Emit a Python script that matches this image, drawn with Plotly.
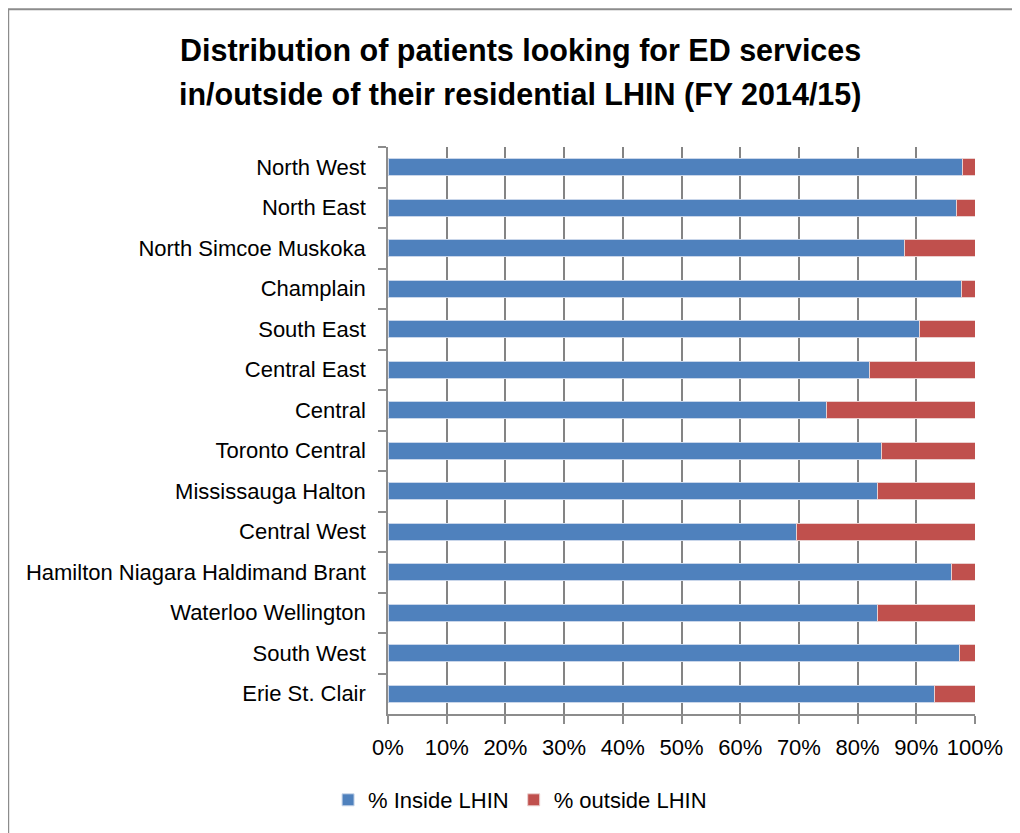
import plotly.graph_objects as go

# LHIN regions, top to bottom as shown
regions = [
    "North West", "North East", "North Simcoe Muskoka", "Champlain",
    "South East", "Central East", "Central", "Toronto Central",
    "Mississauga Halton", "Central West", "Hamilton Niagara Haldimand Brant",
    "Waterloo Wellington", "South West", "Erie St. Clair",
]
inside_pct = [97.8, 96.8, 88.0, 97.7, 90.5, 82.0, 74.7, 84.0, 83.4, 69.6, 96.0, 83.4, 97.3, 93.1]
outside_pct = [2.2, 3.2, 12.0, 2.3, 9.5, 18.0, 25.3, 16.0, 16.6, 30.4, 4.0, 16.6, 2.7, 6.9]
x_ticks = [0, 10, 20, 30, 40, 50, 60, 70, 80, 90, 100]

FONT = "Liberation Sans Narrow, Arial Narrow, Liberation Sans, Arial, sans-serif"

fig = go.Figure()
fig.add_trace(go.Bar(
    y=regions, x=inside_pct, orientation="h", name="% Inside LHIN",
    marker=dict(color="#4F81BD", line=dict(color="#c9d6ea", width=1)),
))
fig.add_trace(go.Bar(
    y=regions, x=outside_pct, orientation="h", name="% outside LHIN",
    marker=dict(color="#C0504D", line=dict(color="#ead0cf", width=1)),
))

# title as two separate lines to get the wide line spacing
title_lines = [
    ("Distribution of patients looking for ED services", 1.171),
    ("in/outside of their residential LHIN (FY 2014/15)", 1.092),
]
annotations = [
    dict(text=f"<b>{t}</b>", xref="paper", yref="paper", x=0.225, y=y,
         xanchor="center", yanchor="middle", showarrow=False,
         font=dict(family=FONT, size=30.5, color="black"))
    for t, y in title_lines
]

fig.update_layout(
    barmode="stack",
    bargap=0.58,
    width=1012, height=825,
    margin=dict(l=380, r=45, t=139, b=119),
    paper_bgcolor="white", plot_bgcolor="white",
    font=dict(family=FONT, size=22, color="black"),
    annotations=annotations,
    legend=dict(
        orientation="h", xref="container", x=0.506, xanchor="center",
        yref="container", y=0.04, yanchor="middle",
        font=dict(size=22), traceorder="normal",
    ),
    shapes=[dict(
        type="rect", xref="paper", yref="paper",
        x0=-0.647, x1=1.2, y0=-0.4, y1=1.243,
        line=dict(color="#8c8c8c", width=2), layer="below",
    )],
)

fig.update_xaxes(
    range=[0, 100], tickvals=x_ticks, ticktext=[f"{v}%" for v in x_ticks],
    showgrid=True, gridcolor="#848484", gridwidth=2,
    showline=True, linecolor="#8c8c8c", linewidth=1.5,
    ticks="outside", ticklen=8, tickcolor="#8c8c8c", tickwidth=1.5,
    ticklabelstandoff=5,
    zeroline=False, tickfont=dict(size=22),
)
fig.update_yaxes(
    autorange="reversed",
    showline=True, linecolor="#8c8c8c", linewidth=1.5,
    ticks="outside", tickson="boundaries", ticklen=8, tickcolor="#8c8c8c", tickwidth=1.5,
    ticklabelstandoff=16,
    showgrid=False, tickfont=dict(size=22),
)

fig.write_html("out.html")
